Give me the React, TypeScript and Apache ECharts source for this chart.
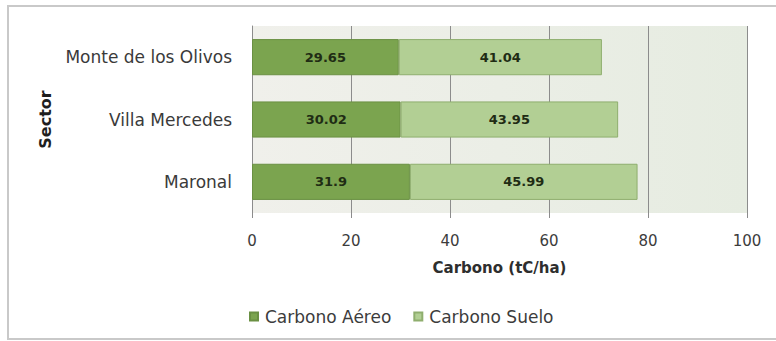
import React, { useEffect, useRef } from "react";
import * as echarts from "echarts";

// Sectors, listed bottom to top as the category axis draws them
const sectors = ["Maronal", "Villa Mercedes", "Monte de los Olivos"];
const carbonoAereo = [31.9, 30.02, 29.65];
const carbonoSuelo = [45.99, 43.95, 41.04];
const xTicks = [0, 20, 40, 60, 80, 100];

const FONT = "DejaVu Sans";

export default function App() {
  const ref = useRef<HTMLDivElement>(null);

  useEffect(() => {
    if (!ref.current) return;
    const chart = echarts.init(ref.current, undefined, { renderer: "svg" });

    const barLabel = {
      show: true,
      position: "inside" as const,
      fontFamily: FONT,
      fontSize: 13,
      fontWeight: "bold" as const,
      color: "#1f2c14",
    };

    chart.setOption({
      animation: false,
      backgroundColor: "#ffffff",
      textStyle: { fontFamily: FONT },
      graphic: [
        {
          type: "rect",
          shape: { x: 8, y: 6, width: 790, height: 333 },
          style: { fill: "none", stroke: "#c9c9c9", lineWidth: 2 },
          silent: true,
        },
      ],
      grid: {
        left: 252,
        right: 29,
        top: 26,
        bottom: 128,
        show: true,
        borderWidth: 0,
        backgroundColor: new echarts.graphic.LinearGradient(0, 0, 1, 0, [
          { offset: 0, color: "#f0f0eb" },
          { offset: 1, color: "#e6ece1" },
        ]),
      },
      legend: {
        data: ["Carbono Aéreo", "Carbono Suelo"],
        left: 244,
        top: 303,
        itemWidth: 8,
        itemHeight: 8,
        itemGap: 22,
        icon: "rect",
        textStyle: { fontFamily: FONT, fontSize: 17, color: "#3c3c3c", padding: [0, 0, 0, 2] },
      },
      xAxis: {
        type: "value",
        min: xTicks[0],
        max: xTicks[xTicks.length - 1],
        interval: xTicks[1] - xTicks[0],
        name: "Carbono (tC/ha)",
        nameLocation: "middle",
        nameGap: 47,
        nameTextStyle: { fontFamily: FONT, fontSize: 15, fontWeight: "bold", color: "#2e2e2e" },
        axisLine: { show: false },
        axisTick: { show: true, length: 5, lineStyle: { color: "#8c8c8c" } },
        axisLabel: { margin: 20, fontFamily: FONT, fontSize: 15, color: "#3c3c3c" },
        splitLine: { show: true, lineStyle: { color: "#8c8c8c", width: 1 } },
      },
      yAxis: {
        type: "category",
        data: sectors,
        name: "Sector",
        nameLocation: "middle",
        nameGap: 199,
        nameTextStyle: { fontFamily: FONT, fontSize: 16, fontWeight: "bold", color: "#1e1e1e" },
        axisLine: { show: true, lineStyle: { color: "#8c8c8c" } },
        axisTick: { show: false },
        axisLabel: { margin: 20, fontFamily: FONT, fontSize: 17, color: "#3a3a3a" },
        splitLine: { show: false },
      },
      series: [
        {
          name: "Carbono Aéreo",
          type: "bar",
          stack: "total",
          data: carbonoAereo,
          barWidth: "58%",
          itemStyle: { color: "#7ba44f", borderColor: "#6a9043", borderWidth: 1 },
          label: barLabel,
        },
        {
          name: "Carbono Suelo",
          type: "bar",
          stack: "total",
          data: carbonoSuelo,
          barWidth: "58%",
          itemStyle: { color: "#b2cf94", borderColor: "#8fae6e", borderWidth: 1 },
          label: barLabel,
        },
      ],
    });

    return () => chart.dispose();
  }, []);

  return (
    <div
      ref={ref}
      style={{ position: "fixed", left: 0, top: 0, width: 776, height: 341 }}
    />
  );
}
